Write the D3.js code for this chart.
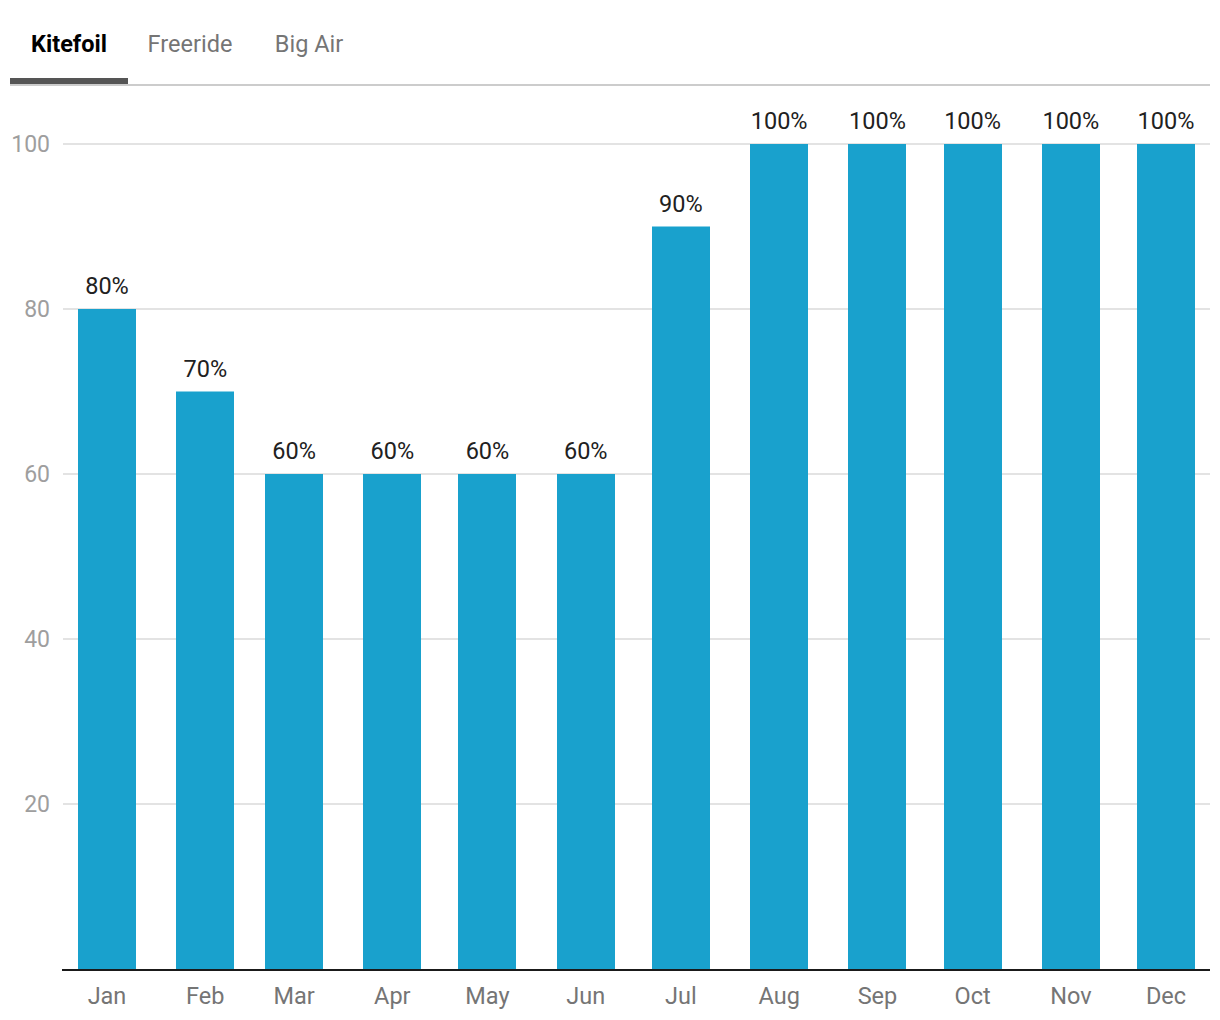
<!DOCTYPE html>
<html><head><meta charset="utf-8">
<script src="https://cdn.jsdelivr.net/npm/d3@7"></script>
<style>body{margin:0;background:#fff;font-family:Roboto,sans-serif;}</style>
</head><body>
<svg id="c" width="1220" height="1020"></svg>
<script>
const tabs = ["Kitefoil", "Freeride", "Big Air"];
const months = ["Jan","Feb","Mar","Apr","May","Jun","Jul","Aug","Sep","Oct","Nov","Dec"];
const values = [80, 70, 60, 60, 60, 60, 90, 100, 100, 100, 100, 100];
const yTicks = [20, 40, 60, 80, 100];

const svg = d3.select("#c");
const font = "Roboto, sans-serif";

// Tabs
const tabX = [69, 190, 309];
svg.selectAll("text.tab").data(tabs).join("text")
  .attr("class","tab")
  .attr("x",(d,i)=>tabX[i]).attr("y",52)
  .attr("text-anchor","middle")
  .attr("font-family",font).attr("font-size",23.5)
  .attr("font-weight",(d,i)=>i===0?700:400)
  .attr("fill",(d,i)=>i===0?"#000":"#757575")
  .text(d=>d);
svg.append("rect").attr("x",10).attr("y",84).attr("width",1200).attr("height",2).attr("fill","#cccccc");
svg.append("rect").attr("x",10).attr("y",78).attr("width",118).attr("height",6).attr("fill","#555555");

// Scales
const y = d3.scaleLinear().domain([0,100]).range([969,144]);
const dates = months.map((m,i)=>new Date(2023,i,1));
const x = d3.scaleTime().domain([dates[0], dates[11]]).range([107,1166]);
const barW = 58;

// Gridlines
svg.append("g").selectAll("line").data(yTicks).join("line")
  .attr("x1",63).attr("x2",1210)
  .attr("y1",d=>y(d)).attr("y2",d=>y(d))
  .attr("stroke","#e3e3e3").attr("stroke-width",2);

// Y labels
svg.append("g").selectAll("text").data(yTicks).join("text")
  .attr("x",50).attr("y",d=>y(d)).attr("dy","0.35em")
  .attr("text-anchor","end")
  .attr("font-family",font).attr("font-size",23).attr("fill","#9e9e9e")
  .text(d=>d);

// Bars
svg.append("g").selectAll("rect").data(values).join("rect")
  .attr("x",(d,i)=>Math.round(x(dates[i])-barW/2))
  .attr("y",d=>y(d))
  .attr("width",barW)
  .attr("height",d=>y(0)-y(d))
  .attr("fill","#19a1cd");

// Value labels
svg.append("g").selectAll("text").data(values).join("text")
  .attr("x",(d,i)=>x(dates[i])).attr("y",d=>y(d)-15)
  .attr("text-anchor","middle")
  .attr("font-family",font).attr("font-size",23.5).attr("fill","#212121")
  .text(d=>d+"%");

// X axis line
svg.append("rect").attr("x",62).attr("y",969).attr("width",1148).attr("height",2).attr("fill","#1a1a1a");

// X labels
svg.append("g").selectAll("text").data(months).join("text")
  .attr("x",(d,i)=>x(dates[i])).attr("y",1004)
  .attr("text-anchor","middle")
  .attr("font-family",font).attr("font-size",23.5).attr("fill","#757575")
  .text(d=>d);
</script>
</body></html>
